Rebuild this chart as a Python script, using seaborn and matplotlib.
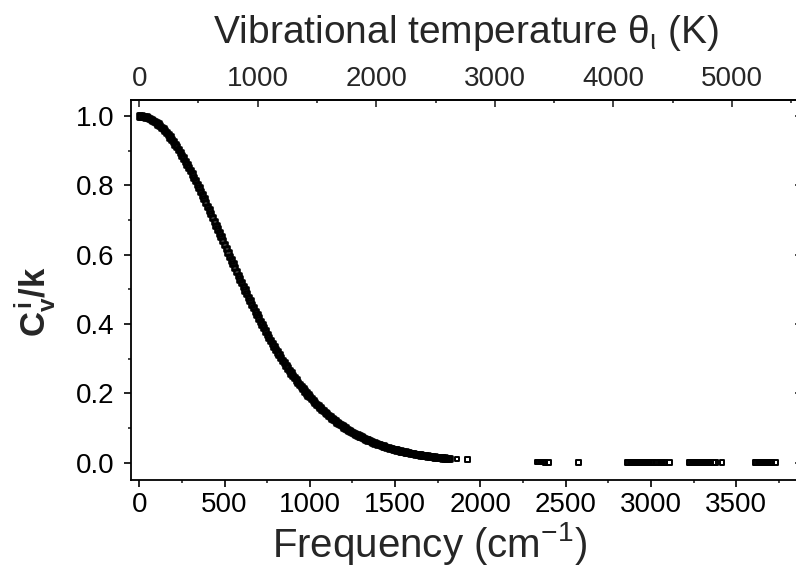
import matplotlib
matplotlib.use("Agg")
import matplotlib.pyplot as plt
import seaborn as sns
import pandas as pd
from matplotlib.ticker import MultipleLocator, FormatStrFormatter

# ---- data ----
curve_freq = [0, 10, 20, 30, 40, 50, 60, 70, 80, 90, 100, 110, 120, 130, 140, 150,
              160, 170, 180, 190, 200, 210, 220, 230, 240, 250, 260, 270, 280, 290,
              300, 310, 320, 330, 340, 350, 360, 370, 380, 390, 400, 410, 420, 430,
              440, 450, 460, 470, 480, 490, 500, 510, 520, 530, 540, 550, 560, 570,
              580, 590, 600, 610, 620, 630, 640, 650, 660, 670, 680, 690, 700, 710,
              720, 730, 740, 750, 760, 770, 780, 790, 800, 810, 820, 830, 840, 850,
              860, 870, 880, 890, 900, 910, 920, 930, 940, 950, 960, 970, 980, 990,
              1000, 1010, 1020, 1030, 1040, 1050, 1060, 1070, 1080, 1090, 1100, 1110,
              1120, 1130, 1140, 1150, 1160, 1170, 1180, 1190, 1200, 1210, 1220, 1230,
              1240, 1250, 1260, 1270, 1280, 1290, 1300, 1310, 1320, 1330, 1340, 1350,
              1360, 1370, 1380, 1390, 1400, 1410, 1420, 1430, 1440, 1450, 1460, 1470,
              1480, 1490, 1500, 1510, 1520, 1530, 1540, 1550, 1560, 1570, 1580, 1590,
              1600, 1610, 1620, 1630, 1640, 1650, 1660, 1670, 1680, 1690, 1700, 1710,
              1720, 1730, 1740, 1750, 1760, 1770, 1780, 1790, 1800, 1810, 1820]
curve_cv = [1.0, 0.99981, 0.99922, 0.99826, 0.99690, 0.99516, 0.99304, 0.99054,
            0.98767, 0.98443, 0.98082, 0.97684, 0.97252, 0.96784, 0.96281, 0.95746,
            0.95176, 0.94575, 0.93942, 0.93279, 0.92586, 0.91864, 0.91114, 0.90336,
            0.89533, 0.88705, 0.87853, 0.86977, 0.86079, 0.85161, 0.84222, 0.83265,
            0.82290, 0.81298, 0.80291, 0.79268, 0.78233, 0.77185, 0.76126, 0.75057,
            0.73978, 0.72891, 0.71797, 0.70696, 0.69591, 0.68481, 0.67368, 0.66253,
            0.65136, 0.64019, 0.62902, 0.61786, 0.60672, 0.59561, 0.58453, 0.57350,
            0.56251, 0.55158, 0.54072, 0.52993, 0.51920, 0.50856, 0.49801, 0.48755,
            0.47719, 0.46692, 0.45675, 0.44671, 0.43678, 0.42696, 0.41726, 0.40769,
            0.39824, 0.38892, 0.37973, 0.37067, 0.36176, 0.35297, 0.34432, 0.33582,
            0.32745, 0.31923, 0.31114, 0.30320, 0.29541, 0.28775, 0.28024, 0.27287,
            0.26565, 0.25857, 0.25162, 0.24482, 0.23816, 0.23164, 0.22526, 0.21902,
            0.21290, 0.20693, 0.20109, 0.19539, 0.18981, 0.18436, 0.17904, 0.17385,
            0.16878, 0.16383, 0.15900, 0.15430, 0.14971, 0.14524, 0.14087, 0.13663,
            0.13249, 0.12846, 0.12453, 0.12071, 0.11699, 0.11337, 0.10984, 0.10641,
            0.10308, 0.09984, 0.09669, 0.09363, 0.09065, 0.08776, 0.08494, 0.08221,
            0.07956, 0.07699, 0.07449, 0.07207, 0.06971, 0.06743, 0.06521, 0.06306,
            0.06098, 0.05895, 0.05699, 0.05509, 0.05325, 0.05146, 0.04973, 0.04805,
            0.04642, 0.04485, 0.04332, 0.04184, 0.04041, 0.03903, 0.03769, 0.03639,
            0.03514, 0.03392, 0.03274, 0.03161, 0.03050, 0.02944, 0.02841, 0.02741,
            0.02645, 0.02552, 0.02462, 0.02375, 0.02291, 0.02210, 0.02131, 0.02055,
            0.01982, 0.01911, 0.01842, 0.01776, 0.01712, 0.01651, 0.01591, 0.01534,
            0.01478, 0.01425, 0.01373, 0.01323, 0.01274, 0.01228, 0.01183]
tail_freq = [1864, 1923,
             2332, 2340, 2348, 2356, 2364, 2372, 2380, 2398,
             2575,
             2862, 2870, 2878, 2886, 2894, 2902, 2910, 2918, 2926, 2934, 2942, 2950,
             2958, 2966, 2974, 2982, 2990, 2998, 3006, 3014, 3034, 3056, 3064, 3072,
             3080, 3108,
             3224, 3232, 3240, 3248, 3256, 3264, 3272, 3280, 3288, 3296, 3304, 3312,
             3320, 3328, 3336, 3344, 3366, 3380, 3416,
             3612, 3620, 3628, 3636, 3644, 3652, 3660, 3668, 3676, 3684, 3692, 3700,
             3708, 3732]
tail_cv = [0.0108, 0.0086,
           0.0016, 0.0016, 0.0015, 0.0015, 0.0014, 0.0014, 0.0013, 0.0013,
           0.0006,
           0.0002, 0.0002, 0.0002, 0.0002, 0.0002, 0.0002, 0.0002, 0.0002, 0.0001,
           0.0001, 0.0001, 0.0001, 0.0001, 0.0001, 0.0001, 0.0001, 0.0001, 0.0001,
           0.0001, 0.0001, 0.0001, 0.0001, 0.0001, 0.0001, 0.0001, 0.0001,
           0.0000, 0.0000, 0.0000, 0.0000, 0.0000, 0.0000, 0.0000, 0.0000, 0.0000,
           0.0000, 0.0000, 0.0000, 0.0000, 0.0000, 0.0000, 0.0000, 0.0000, 0.0000,
           0.0000,
           0.0000, 0.0000, 0.0000, 0.0000, 0.0000, 0.0000, 0.0000, 0.0000, 0.0000,
           0.0000, 0.0000, 0.0000, 0.0000, 0.0000]

x_major = [0, 500, 1000, 1500, 2000, 2500, 3000, 3500]
y_major = [0.0, 0.2, 0.4, 0.6, 0.8, 1.0]
top_major = [0, 1000, 2000, 3000, 4000, 5000]
CM_TO_K = 1.4388

curve_df = pd.DataFrame({"freq": curve_freq, "cv": curve_cv})
tail_df = pd.DataFrame({"freq": tail_freq, "cv": tail_cv})

# ---- style ----
sns.set_style("ticks")
plt.rcParams["font.family"] = ["Liberation Sans", "DejaVu Sans"]
plt.rcParams["mathtext.fontset"] = "custom"
plt.rcParams["mathtext.rm"] = "Liberation Sans"
plt.rcParams["mathtext.it"] = "Liberation Sans"
plt.rcParams["mathtext.bf"] = "Liberation Sans:bold"

W, H = 796, 569
fig = plt.figure(figsize=(W / 100, H / 100), dpi=100)
ax_l, ax_r, ax_b, ax_t = 130.7, 802.0, 480.0, 100.0
ax = fig.add_axes([ax_l / W, (H - ax_b) / H, (ax_r - ax_l) / W, (ax_b - ax_t) / H])

# dense part: many overlapping open squares -> solid band
sns.scatterplot(data=curve_df, x="freq", y="cv", marker="s", s=14, ax=ax,
                legend=False, zorder=3)
c1 = ax.collections[-1]
c1.set_facecolor("none")
c1.set_edgecolor("black")
c1.set_linewidth(1.9)

# high-frequency modes: open squares
sns.scatterplot(data=tail_df, x="freq", y="cv", marker="s", s=11, ax=ax,
                legend=False, zorder=3)
c2 = ax.collections[-1]
c2.set_facecolor("none")
c2.set_edgecolor("black")
c2.set_linewidth(1.4)

ax.set_xlim(-50, 3886)
ax.set_ylim(-0.05, 1.046)
ax.set_xticks(x_major)
ax.set_yticks(y_major)
ax.xaxis.set_minor_locator(MultipleLocator(250))
ax.yaxis.set_minor_locator(MultipleLocator(0.1))
ax.yaxis.set_major_formatter(FormatStrFormatter("%.1f"))

for sp in ax.spines.values():
    sp.set_linewidth(1.3)
    sp.set_color("black")

ax.tick_params(axis="both", which="major", direction="out", length=4.8, width=1.2,
               labelsize=20, colors="black", top=False, right=False)
ax.tick_params(axis="both", which="minor", direction="out", length=2.4, width=1.2,
               top=False, right=False)
ax.tick_params(axis="x", which="major", pad=4)
ax.tick_params(axis="y", which="major", pad=7)

ax.set_xlabel("Frequency (cm$^{-1}$)", fontsize=29)
ax.xaxis.set_label_coords(0.445, -0.105)
ax.set_ylabel(r"$\mathbf{C_v^{\,i}/k}$", fontsize=25)
ax.yaxis.set_label_coords(-0.11, 0.47)

# top axis: vibrational temperature
secx = ax.secondary_xaxis("top", functions=(lambda v: v * CM_TO_K,
                                             lambda t: t / CM_TO_K))
secx.set_xticks(top_major)
secx.xaxis.set_minor_locator(MultipleLocator(500))
secx.tick_params(axis="x", which="major", direction="in", length=4.8, width=1.2,
                 labelsize=20, pad=6)
secx.tick_params(axis="x", which="minor", direction="in", length=2.4, width=1.2)
secx.spines["top"].set_linewidth(1.3)
secx.set_xlabel("Vibrational temperature θ$_{\\iota}$ (K)", fontsize=28, labelpad=16)

# right axis: ticks only
secy = ax.secondary_yaxis("right")
secy.set_yticks(y_major)
secy.yaxis.set_minor_locator(MultipleLocator(0.1))
secy.tick_params(axis="y", which="major", direction="in", length=4.8, width=1.2,
                 labelright=False)
secy.tick_params(axis="y", which="minor", direction="in", length=2.4, width=1.2)

fig.savefig("out.png", dpi=100)
